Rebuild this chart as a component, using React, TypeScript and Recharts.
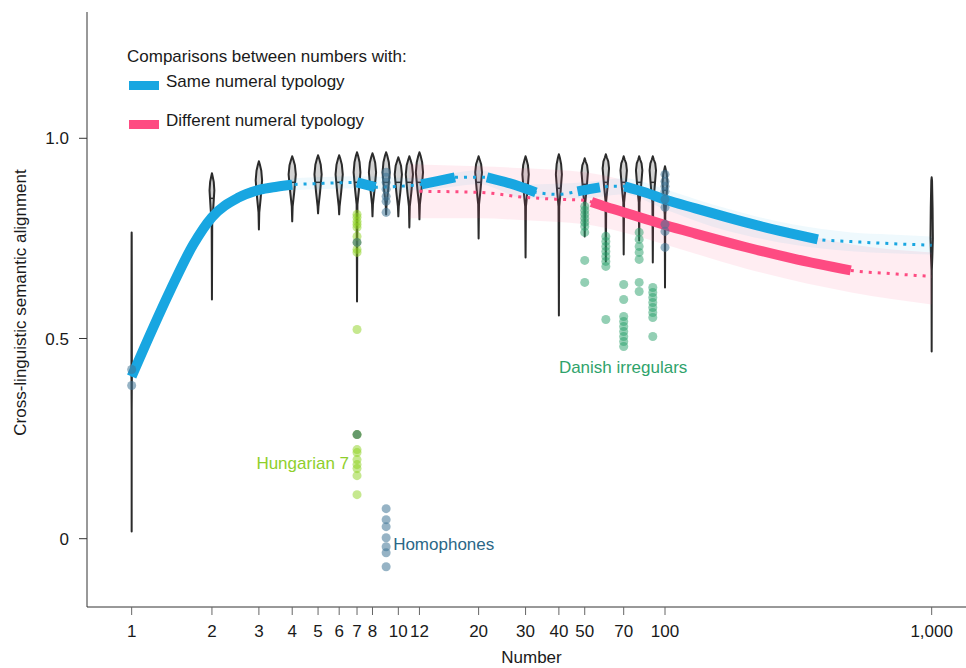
import React from "react";
import { ComposedChart, XAxis, YAxis, Line, Area, Scatter, ReferenceDot } from "recharts";

const BLUE = "#18a6e1";
const PINK = "#fe4b82";
const INK = "#1a1a1a";
const FONT = "'Liberation Sans', Arial, Helvetica, sans-serif";

const xTicks = [1, 2, 3, 4, 5, 6, 7, 8, 10, 12, 20, 30, 40, 50, 70, 100, 1000];
const yTicks = [0, 0.5, 1];

// fitted curve, same numeral typology
const sameN = [1, 1.2, 1.4, 1.7, 2, 2.5, 3, 3.5, 4, 5, 6, 7, 8.2, 10, 12.2, 14, 16.3, 18.5, 21.5, 26, 32.8, 40, 47, 52, 57, 63, 70.5, 85, 100, 130, 170, 220, 290, 374, 500, 700, 1000];
const sameFit = [0.405, 0.525, 0.622, 0.734, 0.803, 0.851, 0.871, 0.879, 0.884, 0.887, 0.889, 0.89, 0.878, 0.88, 0.885, 0.893, 0.9025, 0.903, 0.9025, 0.888, 0.865, 0.86, 0.8675, 0.873, 0.8775, 0.88, 0.88, 0.864, 0.847, 0.825, 0.803, 0.783, 0.764, 0.7475, 0.742, 0.737, 0.733];
const sameSolid = [[1, 4], [7, 8.2], [12.2, 16.3], [21.5, 32.8], [47, 57], [70.5, 374]];
const sameBandN = [4, 7, 12, 20, 30, 50, 70, 100, 150, 200, 300, 500, 700, 1000];
const sameBandLo = [0.87, 0.875, 0.87, 0.885, 0.85, 0.85, 0.86, 0.822, 0.78, 0.758, 0.735, 0.718, 0.713, 0.71];
const sameBandHi = [0.9, 0.905, 0.9, 0.92, 0.885, 0.89, 0.9, 0.873, 0.835, 0.812, 0.785, 0.765, 0.76, 0.755];

// fitted curve, different numeral typology
const diffN = [12, 20, 30, 40, 50, 53, 60, 70, 85, 100, 130, 200, 300, 497, 700, 1000];
const diffFit = [0.8675, 0.865, 0.8525, 0.8475, 0.845, 0.841, 0.829, 0.8155, 0.798, 0.7835, 0.762, 0.7285, 0.7, 0.67, 0.662, 0.655];
const diffSolid = [[53, 497]];
const diffBandN = [11, 20, 30, 50, 70, 100, 200, 500, 1000];
const diffBandLo = [0.8, 0.8, 0.795, 0.785, 0.765, 0.735, 0.675, 0.615, 0.585];
const diffBandHi = [0.935, 0.93, 0.925, 0.915, 0.895, 0.86, 0.8, 0.735, 0.715];

// violins
const violinN = [1, 2, 3, 4, 5, 6, 7, 8, 9, 10, 11, 12, 20, 30, 40, 50, 60, 70, 80, 90, 100, 1000];
const violinMin = [0.018, 0.5975, 0.7725, 0.7925, 0.8125, 0.81, 0.5925, 0.805, 0.81, 0.805, 0.7775, 0.7975, 0.75, 0.7025, 0.5575, 0.755, 0.6925, 0.71, 0.745, 0.69, 0.6275, 0.4675];
const violinMax = [0.765, 0.9125, 0.9425, 0.955, 0.9575, 0.9575, 0.965, 0.9625, 0.965, 0.9525, 0.955, 0.965, 0.955, 0.955, 0.96, 0.95, 0.96, 0.955, 0.955, 0.955, 0.93, 0.9025];
const violinMode = [0.4, 0.87, 0.895, 0.91, 0.91, 0.91, 0.915, 0.915, 0.915, 0.91, 0.91, 0.915, 0.915, 0.91, 0.91, 0.915, 0.925, 0.92, 0.92, 0.92, 0.89, 0.75];
const violinMedian = [0.4, 0.85, 0.88, 0.89, 0.89, 0.89, 0.89, 0.89, 0.89, 0.89, 0.89, 0.89, 0.89, 0.885, 0.875, 0.885, 0.89, 0.89, 0.89, 0.89, 0.87, 0.74];
const violinPeak = [0.05, 0.6, 0.8, 0.9, 0.9, 0.9, 0.85, 0.9, 0.9, 0.9, 0.9, 0.9, 0.85, 0.8, 0.75, 0.8, 0.8, 0.8, 0.8, 0.8, 0.6, 0.3];

// individual comparisons
const oneDots = [0.4225, 0.3825];
const hundredDots = [0.91, 0.8925, 0.88, 0.8675, 0.8475, 0.8275, 0.785, 0.7675, 0.7275];
const hungarianDots = [0.81, 0.8025, 0.7925, 0.785, 0.7775, 0.755, 0.7225, 0.715, 0.5225, 0.26, 0.2225, 0.215, 0.1975, 0.185, 0.175, 0.1575, 0.11];
const hungarianDark = [0.74, 0.26];
const homophoneDots = [0.915, 0.9025, 0.89, 0.8725, 0.855, 0.8425, 0.815, 0.075, 0.0475, 0.03, 0.0025, -0.02, -0.035, -0.07];
const danishN = [50, 60, 70, 80, 90];
const danishDots = [
  [0.83, 0.82, 0.81, 0.8, 0.79, 0.78, 0.765, 0.695, 0.64],
  [0.755, 0.7425, 0.73, 0.7175, 0.705, 0.6925, 0.68, 0.5475],
  [0.635, 0.5975, 0.555, 0.5425, 0.53, 0.5175, 0.505, 0.4925, 0.48],
  [0.765, 0.7475, 0.73, 0.715, 0.6975, 0.64, 0.6175],
  [0.6275, 0.615, 0.6025, 0.59, 0.5775, 0.565, 0.5525, 0.505],
];

const VIOLIN_HALF = 4;

const inRanges = (n: number, ranges: number[][]) =>
  ranges.some(([a, b]) => n >= a - 1e-9 && n <= b + 1e-9);

const sameData = sameN.map((n, i) => ({
  n,
  fit: sameFit[i],
  solid: inRanges(n, sameSolid) ? sameFit[i] : null,
}));
const diffData = diffN.map((n, i) => ({
  n,
  fit: diffFit[i],
  solid: inRanges(n, diffSolid) ? diffFit[i] : null,
}));
const sameBand = sameBandN.map((n, i) => ({ n, band: [sameBandLo[i], sameBandHi[i]] }));
const diffBand = diffBandN.map((n, i) => ({ n, band: [diffBandLo[i], diffBandHi[i]] }));

const column = (n: number, ys: number[]) => ys.map((y) => ({ n, y }));
const danishData = danishN.flatMap((n, i) => column(n, danishDots[i]));

const violins = violinN.map((n, i) => {
  const lo = violinMin[i];
  const hi = violinMax[i];
  const mode = violinMode[i];
  let levels = [
    { y: lo, w: 0 },
    { y: mode - 0.08, w: 0.12 },
    { y: mode - 0.045, w: 0.55 },
    { y: mode, w: 1 },
    { y: mode + 0.5 * (hi - mode), w: 0.75 },
    { y: hi - 0.008, w: 0.3 },
    { y: hi, w: 0 },
  ].filter((l, k) => k === 0 || k === 6 || (l.y > lo && l.y < hi));
  const med = violinMedian[i];
  let medIdx = levels.findIndex((l) => Math.abs(l.y - med) < 1e-6);
  if (medIdx < 0) {
    const k = levels.findIndex((l) => l.y > med);
    const a = levels[k - 1];
    const b = levels[k];
    const w = a.w + ((b.w - a.w) * (med - a.y)) / (b.y - a.y);
    levels = [...levels.slice(0, k), { y: med, w }, ...levels.slice(k)];
    medIdx = k;
  }
  return {
    n,
    data: levels.map((l) => ({ n, y: l.y })),
    widths: levels.map((l) => l.w * violinPeak[i]),
    medIdx,
  };
});

function ViolinOutline(props: any) {
  const { points, widths, medIdx } = props;
  if (!points || points.length < 2) return null;
  const right = points.map((p: any, i: number) => `${p.x + widths[i] * VIOLIN_HALF},${p.y}`);
  const left = points
    .map((p: any, i: number) => `${p.x - widths[i] * VIOLIN_HALF},${p.y}`)
    .reverse();
  const d = `M${right.join("L")}L${left.join("L")}Z`;
  const m = points[medIdx];
  const mw = widths[medIdx] * VIOLIN_HALF;
  return (
    <g>
      <path d={d} fill="#d2d2d2" stroke="#2b2b2b" strokeWidth={2} strokeLinejoin="round" />
      {mw > 1.2 && (
        <line x1={m.x - mw} x2={m.x + mw} y1={m.y} y2={m.y} stroke="#2b2b2b" strokeWidth={1.5} />
      )}
    </g>
  );
}

const NoShape = () => <g />;

function YTitle(props: any) {
  const { viewBox } = props;
  const cx = viewBox.x + 20;
  const cy = viewBox.y + viewBox.height / 2 - 7;
  return (
    <text x={cx} y={cy} transform={`rotate(-90 ${cx} ${cy})`} textAnchor="middle" dominantBaseline="central" fontSize={17} fill={INK}>
      Cross-linguistic semantic alignment
    </text>
  );
}

function XTitle(props: any) {
  const { viewBox } = props;
  const cx = viewBox.x + viewBox.width / 2 + 5;
  const cy = viewBox.y + 50;
  return (
    <text x={cx} y={cy} textAnchor="middle" dominantBaseline="central" fontSize={17} fill={INK}>
      Number
    </text>
  );
}

const fmtX = (v: number) => (v >= 1000 ? v.toLocaleString("en-US") : String(v));
const fmtY = (v: number) => (v === 0 ? "0" : v.toFixed(1));

export default function App() {
  return (
    <div style={{ position: "absolute", left: 0, top: 0, width: 966, height: 668, fontFamily: FONT, background: "#fff" }}>
      <ComposedChart width={966} height={668} margin={{ top: 12, right: 0, bottom: 4, left: 0 }}>
        <XAxis
          dataKey="n"
          type="number"
          scale="log"
          domain={[0.68, 1345]}
          allowDataOverflow
          ticks={xTicks}
          interval={0}
          tickFormatter={fmtX}
          height={57}
          tickSize={8}
          tickMargin={10}
          tick={{ fill: INK, fontSize: 17 }}
          tickLine={{ stroke: "#666" }}
          axisLine={{ stroke: "#333" }}
          label={<XTitle />}
        />
        <YAxis
          dataKey="y"
          type="number"
          domain={[-0.1706, 1.3154]}
          allowDataOverflow
          ticks={yTicks}
          tickFormatter={fmtY}
          width={87}
          tickSize={8}
          tickMargin={10}
          tick={{ fill: INK, fontSize: 17 }}
          tickLine={{ stroke: "#333" }}
          axisLine={{ stroke: "#333" }}
          label={<YTitle />}
        />

        {violins.map((v) => (
          <Scatter
            key={`violin-${v.n}`}
            data={v.data}
            shape={NoShape}
            line={<ViolinOutline widths={v.widths} medIdx={v.medIdx} />}
            lineType="joint"
            isAnimationActive={false}
            zIndex={50}
          />
        ))}

        <Area data={diffBand} dataKey="band" type="monotone" stroke="none" fill={PINK} fillOpacity={0.1} isAnimationActive={false} zIndex={100} />
        <Area data={sameBand} dataKey="band" type="monotone" stroke="none" fill={BLUE} fillOpacity={0.07} isAnimationActive={false} zIndex={100} />

        <Line data={diffData} dataKey="fit" type="monotone" stroke={PINK} strokeWidth={3} strokeDasharray="3 6" dot={false} activeDot={false} isAnimationActive={false} zIndex={400} />
        <Line data={sameData} dataKey="fit" type="monotone" stroke={BLUE} strokeWidth={3} strokeDasharray="3 6" dot={false} activeDot={false} isAnimationActive={false} zIndex={400} />
        <Line data={diffData} dataKey="solid" type="monotone" stroke={PINK} strokeWidth={10} strokeLinecap="butt" dot={false} activeDot={false} isAnimationActive={false} zIndex={400} />
        <Line data={sameData} dataKey="solid" type="monotone" stroke={BLUE} strokeWidth={10} strokeLinecap="butt" dot={false} activeDot={false} isAnimationActive={false} zIndex={400} />

        <Scatter data={column(1, oneDots)} fill="#3f7595" fillOpacity={0.55} isAnimationActive={false} zIndex={600} />
        <Scatter data={column(100, hundredDots)} fill="#3f7595" fillOpacity={0.55} isAnimationActive={false} zIndex={600} />
        <Scatter data={column(9, homophoneDots)} fill="#3f7595" fillOpacity={0.55} isAnimationActive={false} zIndex={600} />
        <Scatter data={column(7, hungarianDots)} fill="#8ed11f" fillOpacity={0.5} isAnimationActive={false} zIndex={600} />
        <Scatter data={column(7, hungarianDark)} fill="#4d8660" fillOpacity={0.8} isAnimationActive={false} zIndex={600} />
        <Scatter data={danishData} fill="#27a06a" fillOpacity={0.5} isAnimationActive={false} zIndex={600} />

        <ReferenceDot x={7} y={0.19} r={0} fill="none" stroke="none" label={{ value: "Hungarian 7", position: "left", offset: 8, fill: "#8fcf2c", fontSize: 17 }} />
        <ReferenceDot x={9} y={-0.0125} r={0} fill="none" stroke="none" label={{ value: "Homophones", position: "right", offset: 7, fill: "#2b6787", fontSize: 17 }} />
        <ReferenceDot x={40} y={0.43} r={0} fill="none" stroke="none" label={{ value: "Danish irregulars", position: "right", offset: 0, fill: "#2fa36b", fontSize: 17 }} />
      </ComposedChart>

      <div style={{ position: "absolute", left: 127, top: 47, fontSize: 17, color: INK, lineHeight: "20px" }}>
        <div>Comparisons between numbers with:</div>
        <div style={{ display: "flex", alignItems: "flex-start", marginTop: 5 }}>
          <span style={{ display: "inline-block", width: 30, height: 9, background: BLUE, marginTop: 9, marginLeft: 2, marginRight: 7 }} />
          Same numeral typology
        </div>
        <div style={{ display: "flex", alignItems: "flex-start", marginTop: 19 }}>
          <span style={{ display: "inline-block", width: 30, height: 9, background: PINK, marginTop: 9, marginLeft: 2, marginRight: 7 }} />
          Different numeral typology
        </div>
      </div>
    </div>
  );
}
